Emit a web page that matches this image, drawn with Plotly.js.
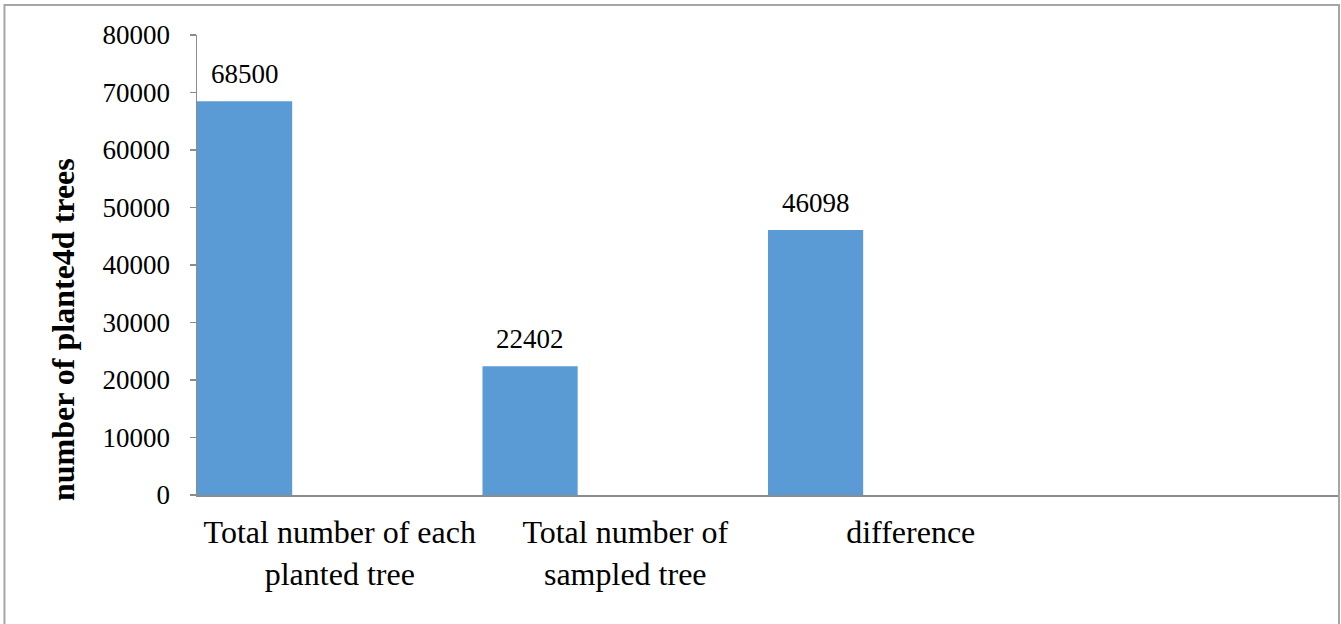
<!DOCTYPE html>
<html>
<head>
<meta charset="utf-8">
<script src="https://cdn.plot.ly/plotly-3.0.1.min.js"></script>
<style>
  html, body { margin: 0; padding: 0; background: #ffffff; }
  #chart { width: 1341px; height: 624px; }
</style>
</head>
<body>
<div id="chart"></div>
<script>
// Tree counts by category
const categories = [
  "Total number of each<br>planted tree",
  "Total number of<br>sampled tree",
  "difference",
  ""
];
const values = [68500, 22402, 46098];
const yTicks = [0, 10000, 20000, 30000, 40000, 50000, 60000, 70000, 80000];

const positions = values.map((v, i) => i);
const barWidth = 1 / 3;          // each bar fills the left third of its slot
const barOffset = -0.5;

const serif = "'Liberation Serif', 'Times New Roman', serif";

const trace = {
  type: "bar",
  x: positions,
  y: values,
  width: barWidth,
  offset: barOffset,
  marker: { color: "#5b9bd5", line: { width: 0 } },
  hoverinfo: "x+y",
  showlegend: false
};

// value labels above each bar
const valueLabels = values.map((v, i) => ({
  xref: "x", yref: "y",
  x: i + barOffset + barWidth / 2,
  y: v,
  text: String(v),
  showarrow: false,
  xanchor: "center", yanchor: "bottom",
  yshift: 10,
  font: { family: serif, size: 27, color: "#000000" }
}));

const layout = {
  width: 1341,
  height: 624,
  margin: { l: 197, r: 2, t: 35, b: 129 },
  paper_bgcolor: "#ffffff",
  plot_bgcolor: "#ffffff",
  font: { family: serif, size: 27, color: "#000000" },
  xaxis: {
    type: "linear",
    range: [-0.5, categories.length - 0.5],
    tickmode: "array",
    tickvals: categories.map((c, i) => i),
    ticktext: categories,
    ticks: "",
    showgrid: false,
    zeroline: false,
    showline: true,
    linecolor: "#8c8c8c",
    linewidth: 1.5,
    tickfont: { family: serif, size: 32, color: "#000000" },
    ticklabelstandoff: 8,
    fixedrange: true
  },
  yaxis: {
    range: [0, 80000],
    tickmode: "array",
    tickvals: yTicks,
    ticktext: yTicks.map(String),
    ticks: "outside",
    ticklen: 6,
    tickcolor: "#8c8c8c",
    tickwidth: 1.5,
    showgrid: false,
    zeroline: false,
    showline: true,
    linecolor: "#8c8c8c",
    linewidth: 1.5,
    tickfont: { family: serif, size: 27, color: "#000000" },
    ticklabelstandoff: 14,
    fixedrange: true
  },
  annotations: valueLabels.concat([{
    xref: "paper", yref: "paper",
    x: -0.1173, y: 0.3587,
    text: "<b>number of plante4d trees</b>",
    textangle: -90,
    showarrow: false,
    xanchor: "center", yanchor: "middle",
    font: { family: serif, size: 32, color: "#000000" }
  }]),
  shapes: [{
    type: "rect",
    xref: "paper", yref: "paper",
    x0: -0.1686, x1: 1.0,
    y0: -0.32, y1: 1.0652,
    line: { color: "#a6a6a6", width: 2 },
    fillcolor: "rgba(0,0,0,0)",
    layer: "above"
  }]
};

Plotly.newPlot("chart", [trace], layout, { displayModeBar: false, staticPlot: true });
</script>
</body>
</html>
